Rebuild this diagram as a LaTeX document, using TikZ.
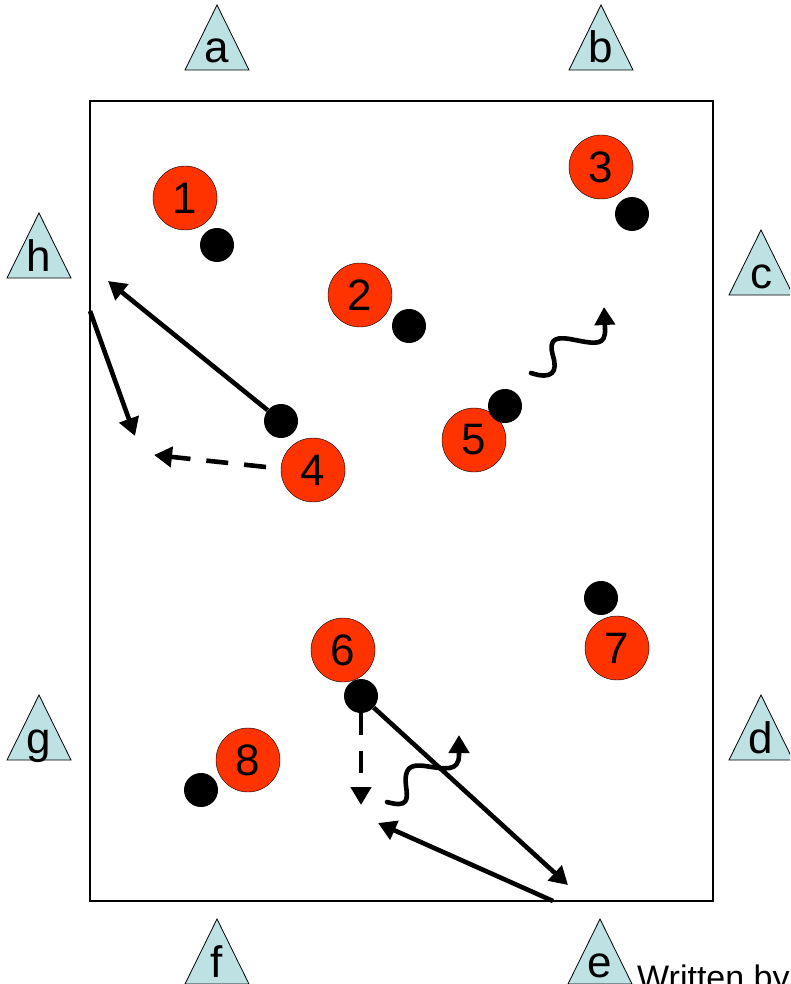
\documentclass[tikz,border=0pt]{standalone}
\usepackage{fontspec}
\setmainfont{Liberation Sans}
\usetikzlibrary{arrows.meta,positioning}
\definecolor{conecyan}{RGB}{190,226,228}
\definecolor{playerred}{RGB}{255,51,0}

\begin{document}
\begin{tikzpicture}[x=1pt,y=-1pt,
  player/.style={circle,draw,thin,fill=playerred,minimum size=64pt,inner sep=0pt,
    font=\fontsize{44}{50}\selectfont},
  ball/.style={circle,fill=black,minimum size=34pt,inner sep=0pt},
  pass/.style={line width=4.6pt,-{Triangle[length=18pt,width=20pt]}},
  run/.style={pass,dash pattern=on 22pt off 16pt},
  dribble/.style={pass,line join=round,line cap=round}]
  \clip (0,0) rectangle (790,984);
  % pitch
  \draw[line width=1.5pt] (90,101) rectangle (713,901);
  % cones round the pitch
  \foreach \n/\x/\y in {a/217/70, b/601/70, h/39/278, c/761/295,
                        g/39/760, d/761/760, f/217/984, e/600/984} {
    \draw[line width=0.8pt,fill=conecyan] (\x-32,\y) -- (\x,\y-65) -- (\x+32,\y) -- cycle;
    \node[anchor=base,font=\fontsize{44}{50}\selectfont,inner sep=0pt] (cone\n) at (\x,\y-7) {\n};
  }
  % players and their balls
  \foreach \n/\x/\y in {1/185/198, 2/360/295, 3/601/167, 4/313/470,
                        5/474/440, 6/343/650, 7/617/648, 8/248/760}
    \node[player] (p\n) at (\x,\y) {\n};
  \foreach \n/\x/\y in {1/217/245, 2/409/326, 3/632/214, 4/281/421,
                        5/505/406, 6/361/696, 7/601/598, 8/201/790}
    \node[ball] (b\n) at (\x,\y) {};
  % free ends of the moves
  \coordinate (hwide) at (108,281);
  \coordinate (hline) at (90,311);
  \coordinate (hback) at (135,436);
  \coordinate (rstart) at (266,467);
  \coordinate (rend) at (154,455);
  \coordinate (dstart) at (531,373);
  \coordinate (dend) at (604,307);
  \coordinate (drop) at (361,805);
  \coordinate (eline) at (568,885);
  \coordinate (eback) at (553,901);
  \coordinate (eend) at (378,823);
  \coordinate (wstart) at (387,802);
  \coordinate (wend) at (459,735);
  % top half
  \draw[pass] (b4) -- (hwide);
  \draw[pass] (hline) -- (hback);
  \draw[run] (rstart) -- (rend);
  \draw[dribble] (dstart) .. controls (552,380) and (558,372) .. (553,356)
    .. controls (548,338) and (556,336) .. (575,340)
    .. controls (596,344) and (606,346) .. (605,328) -- (dend);
  % bottom half
  \draw[run] (b6) -- (drop);
  \draw[pass] (b6) -- (eline);
  \draw[pass] (eback) -- (eend);
  \draw[dribble] (wstart) .. controls (408,808) and (408,800) .. (406,786)
    .. controls (404,768) and (410,764) .. (425,766)
    .. controls (445,769) and (459,772) .. (459,755) -- (wend);
  \node[anchor=base west,font=\fontsize{34}{40}\selectfont,inner sep=0pt] (credit) at (637,989) {Written by};
\end{tikzpicture}
\end{document}
